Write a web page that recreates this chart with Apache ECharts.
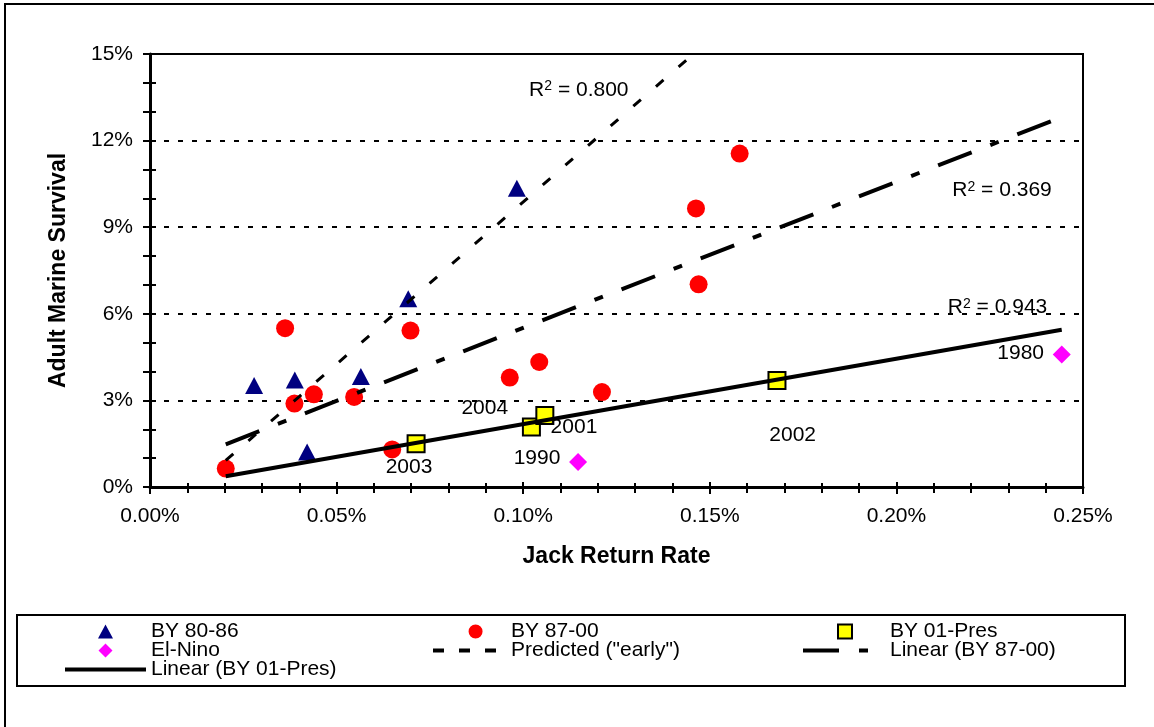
<!DOCTYPE html>
<html>
<head>
<meta charset="utf-8">
<title>Adult Marine Survival vs Jack Return Rate</title>
<script src="https://cdn.jsdelivr.net/npm/echarts@6/dist/echarts.min.js"></script>
<style>
  html, body { margin: 0; padding: 0; background: #fff; }
  #chart { width: 1154px; height: 727px; }
</style>
</head>
<body>
<div id="chart"></div>
<script>
// Jack return rate (%) on x, adult marine survival (%) on y
const by8086 = [[0.0279, 3.52], [0.0388, 3.71], [0.0421, 1.21], [0.0565, 3.83], [0.0692, 6.52], [0.0983, 10.35]];
const by8700 = [[0.0203, 0.64], [0.0362, 5.50], [0.0387, 2.89], [0.0439, 3.21], [0.0547, 3.12], [0.0649, 1.30],
                [0.0698, 5.42], [0.0964, 3.79], [0.1043, 4.33], [0.1211, 3.29], [0.1463, 9.65], [0.1470, 7.02], [0.1580, 11.55]];
const by01Pres = [[0.0713, 1.50], [0.1022, 2.08], [0.1058, 2.48], [0.1680, 3.69]];
const elNino = [[0.1147, 0.87], [0.2443, 4.59]];

// Trend lines (end points)
const predictedEarly = [[0.0203, 0.92], [0.1456, 15.0]];
const linear8700 = [[0.0203, 1.48], [0.2446, 12.83]];
const linear01Pres = [[0.0203, 0.37], [0.2443, 5.45]];

// Year notes and R-squared notes: [text, x, y]
const yearNotes = [['2003', 0.0694, 0.68], ['2004', 0.0897, 2.72], ['2001', 0.1136, 2.07],
                   ['1990', 0.1037, 0.99], ['2002', 0.1722, 1.79], ['1980', 0.2333, 4.63]];
const r2Notes = [['0.800', 0.1149, 13.76], ['0.369', 0.2283, 10.27], ['0.943', 0.2271, 6.22]];

const FONT = '"Liberation Sans", Arial, Helvetica, sans-serif';
const BLACK = '#000';

const chart = echarts.init(document.getElementById('chart'), null, { renderer: 'canvas' });

const tickLine = { color: BLACK, width: 2 };
const xBase = { type: 'value', min: 0, max: 0.25, interval: 0.05, position: 'bottom', gridIndex: 0 };
const yBase = { type: 'value', min: 0, max: 15, interval: 3, position: 'left', gridIndex: 0 };

// Legend keys: each icon path spans the full key box (corner anchors are zero-length
// sub-paths) so the glyph keeps its own size and position inside the box.
function keyIcon(w, body) {
  return 'path://M0,0L0,0ZM' + w + ',14L' + w + ',14Z' + body;
}
const KEY1 = 81, KEY2 = 73, KEY3 = 82;

const legendText = { fontSize: 21, lineHeight: 18, color: BLACK, fontFamily: FONT };
const legendCommon = {
  orient: 'vertical', top: 621, padding: 0, itemGap: -2, itemHeight: 14,
  selectedMode: false, textStyle: legendText
};

const option = {
  animation: false,
  backgroundColor: '#fff',
  textStyle: { fontFamily: FONT },
  grid: { left: 150, right: 71, top: 54, bottom: 240, show: true, borderColor: BLACK, borderWidth: 2 },
  xAxis: [
    Object.assign({}, xBase, {
      name: 'Jack Return Rate', nameLocation: 'middle', nameGap: 58,
      nameTextStyle: { fontSize: 23, fontWeight: 'bold', color: BLACK, fontFamily: FONT },
      axisLine: { show: true, onZero: false, lineStyle: { color: BLACK, width: 3 } },
      axisTick: { show: true, inside: false, length: 7, lineStyle: tickLine },
      minorTick: { show: true, splitNumber: 5, length: 6, lineStyle: tickLine },
      axisLabel: { margin: 19, fontSize: 21, color: BLACK, fontFamily: FONT,
                   formatter: v => v.toFixed(2) + '%' },
      splitLine: { show: false }
    }),
    Object.assign({}, xBase, {
      axisLine: { show: false },
      axisTick: { show: true, inside: true, length: 5, lineStyle: tickLine },
      minorTick: { show: true, splitNumber: 5, length: 4, lineStyle: tickLine },
      axisLabel: { show: false },
      splitLine: { show: false }
    })
  ],
  yAxis: [
    Object.assign({}, yBase, {
      name: 'Adult Marine Survival', nameLocation: 'middle', nameGap: 80,
      nameTextStyle: { fontSize: 23, fontWeight: 'bold', color: BLACK, fontFamily: FONT },
      axisLine: { show: true, onZero: false, lineStyle: { color: BLACK, width: 3 } },
      axisTick: { show: true, inside: false, length: 7, lineStyle: tickLine },
      minorTick: { show: true, splitNumber: 3, length: 7, lineStyle: tickLine },
      axisLabel: { margin: 17, fontSize: 21, color: BLACK, fontFamily: FONT,
                   formatter: v => v + '%' },
      splitLine: { show: true, lineStyle: { color: BLACK, width: 2, type: [5, 9] } }
    }),
    Object.assign({}, yBase, {
      axisLine: { show: false },
      axisTick: { show: true, inside: true, length: 6, lineStyle: tickLine },
      minorTick: { show: true, splitNumber: 3, length: 6, lineStyle: tickLine },
      axisLabel: { show: false },
      splitLine: { show: false }
    })
  ],
  legend: [
    Object.assign({}, legendCommon, {
      left: 65, itemWidth: KEY1,
      data: [
        { name: 'BY 80-86', icon: keyIcon(KEY1, 'M33,14L40.5,0L48,14Z') },
        { name: 'El-Nino', icon: keyIcon(KEY1, 'M40.5,0L47.5,7L40.5,14L33.5,7Z') },
        { name: 'Linear (BY 01-Pres)', icon: keyIcon(KEY1, 'M0,5L81,5L81,9L0,9Z') }
      ]
    }),
    Object.assign({}, legendCommon, {
      left: 433, itemWidth: KEY2,
      data: [
        { name: 'BY 87-00', icon: keyIcon(KEY2, 'M35.5,7A7.5,7.5 0 1,0 50.5,7A7.5,7.5 0 1,0 35.5,7Z') },
        { name: 'Predicted ("early")',
          icon: keyIcon(KEY2, 'M0,5L11,5L11,9L0,9ZM26,5L37,5L37,9L26,9ZM52,5L63,5L63,9L52,9Z') }
      ]
    }),
    Object.assign({}, legendCommon, {
      left: 802, itemWidth: KEY3,
      data: [
        { name: 'BY 01-Pres', icon: keyIcon(KEY3, 'M35,0L49,0L49,14L35,14Z') },
        { name: 'Linear (BY 87-00)', icon: keyIcon(KEY3, 'M0,5L36,5L36,9L0,9ZM56,5L65,5L65,9L56,9Z') }
      ]
    })
  ],
  series: [
    { name: 'BY 80-86', type: 'scatter', data: by8086, symbol: 'triangle', symbolSize: [18, 17],
      itemStyle: { color: '#000080', opacity: 1 }, z: 2 },
    { name: 'BY 87-00', type: 'scatter', data: by8700, symbol: 'circle', symbolSize: 18,
      itemStyle: { color: '#ff0000', opacity: 1 }, z: 2 },
    { name: 'BY 01-Pres', type: 'scatter', data: by01Pres, symbol: 'rect', symbolSize: 17,
      itemStyle: { color: '#ffff00', borderColor: BLACK, borderWidth: 2, opacity: 1 }, z: 2 },
    { name: 'El-Nino', type: 'scatter', data: elNino, symbol: 'diamond', symbolSize: 18,
      itemStyle: { color: '#ff00ff', opacity: 1 }, z: 2 },
    { name: 'Predicted ("early")', type: 'line', data: predictedEarly, symbol: 'none',
      lineStyle: { color: BLACK, width: 3, type: [10, 20] }, itemStyle: { color: BLACK }, z: 3 },
    { name: 'Linear (BY 87-00)', type: 'line', data: linear8700, symbol: 'none',
      lineStyle: { color: BLACK, width: 4, type: [36, 20, 9, 20] }, itemStyle: { color: BLACK }, z: 3 },
    { name: 'Linear (BY 01-Pres)', type: 'line', data: linear01Pres, symbol: 'none',
      lineStyle: { color: BLACK, width: 4 }, itemStyle: { color: BLACK }, z: 3 },
    { name: 'year notes', type: 'scatter', symbolSize: 0, z: 5, silent: true,
      itemStyle: { opacity: 1 },
      data: yearNotes.map(n => ({ name: n[0], value: [n[1], n[2]] })),
      label: { show: true, position: 'inside', formatter: p => p.name,
               fontSize: 21, color: BLACK, fontFamily: FONT } },
    { name: 'r2 notes', type: 'scatter', symbolSize: 0, z: 5, silent: true,
      itemStyle: { opacity: 1 },
      data: r2Notes.map(n => ({ name: n[0], value: [n[1], n[2]] })),
      label: { show: true, position: 'inside',
               formatter: p => '{a|R}{s|2}{a| = ' + p.name + '}',
               rich: {
                 a: { fontSize: 21, color: BLACK, fontFamily: FONT },
                 s: { fontSize: 14, color: BLACK, fontFamily: FONT, verticalAlign: 'top' }
               } } }
  ],
  graphic: [
    { type: 'rect', silent: true, z: -1, shape: { x: 5, y: 4, width: 1200, height: 800 },
      style: { fill: 'none', stroke: BLACK, lineWidth: 2 } },
    { type: 'rect', silent: true, z: -1, shape: { x: 17, y: 615, width: 1108, height: 71 },
      style: { fill: 'none', stroke: BLACK, lineWidth: 2 } }
  ]
};

chart.setOption(option);
</script>
</body>
</html>
